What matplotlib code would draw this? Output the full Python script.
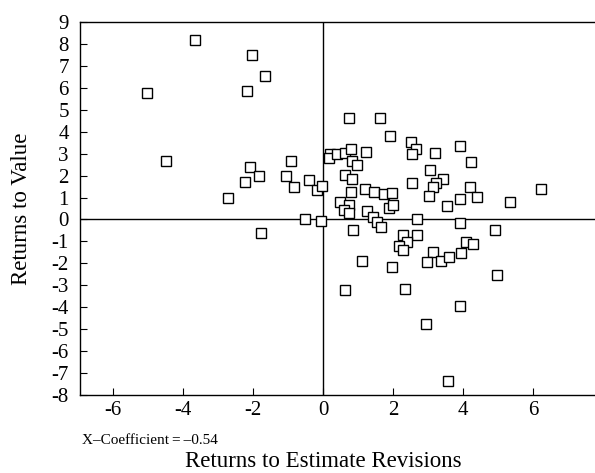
import matplotlib
matplotlib.use("Agg")
import matplotlib.pyplot as plt


# ── Data ──────────────────────────────────────────────────────────────────────

estimate_revisions = [
    -3.66, -2.03, -1.66, -2.16, -5.02, -4.47, -0.92, -2.09, -1.83, -1.07,
    -2.22, -0.41, -0.84, -0.18, -0.02, -2.71, -0.51, -0.05, -1.78,
    0.75, 1.63, 1.91, 2.51, 2.65, 2.54, 3.19, 3.92, 4.23, 3.07,
    3.43, 3.23, 3.15, 4.20, 4.40, 3.91, 3.55, 3.04, 2.54, 5.33,
    6.23, 0.20, 0.17, 0.41, 0.63, 0.79, 0.83, 0.97, 1.23, 0.64,
    0.83, 1.19, 0.79, 1.47, 1.73, 1.97, 0.49, 0.75, 0.61, 0.75,
    1.25, 1.89, 2.01, 1.42, 1.53, 1.67, 2.68, 3.91, 0.87, 4.91,
    2.28, 2.69, 2.39, 2.18, 2.29, 4.08, 4.28, 3.13, 2.96, 3.37,
    3.61, 3.95, 1.11, 1.96, 4.96, 0.63, 2.33, 3.91, 2.95, 3.58,
]
returns_to_value = [
    8.18, 7.50, 6.54, 5.86, 5.78, 2.68, 2.68, 2.41, 2.00, 2.00,
    1.69, 1.79, 1.48, 1.34, 1.54, 0.99, 0.00, -0.05, -0.62,
    4.61, 4.64, 3.81, 3.53, 3.21, 2.99, 3.05, 3.37, 2.61, 2.26,
    1.85, 1.65, 1.50, 1.47, 1.03, 0.93, 0.63, 1.06, 1.68, 0.78,
    1.41, 2.99, 2.79, 2.99, 3.05, 3.21, 2.68, 2.50, 3.08, 2.03,
    1.83, 1.41, 1.24, 1.24, 1.16, 1.19, 0.78, 0.66, 0.43, 0.30,
    0.39, 0.51, 0.66, 0.13, -0.10, -0.33, 0.01, -0.17, -0.48, -0.48,
    -0.71, -0.71, -1.04, -1.19, -1.39, -1.04, -1.13, -1.50, -1.92, -1.88,
    -1.69, -1.54, -1.89, -2.18, -2.53, -3.21, -3.18, -3.94, -4.78, -7.35,
]

x_ticks = [-6, -4, -2, 0, 2, 4, 6]
y_ticks = list(range(-8, 10))
coef_text = "X\u2013Coefficient\u2009=\u2009\u20130.54"

# ── Plot ──────────────────────────────────────────────────────────────────────

plt.rcParams["font.family"] = ["Liberation Serif", "DejaVu Serif"]

fig = plt.figure(figsize=(5.95, 4.73), dpi=100)
ax = fig.add_axes([80 / 595, 78 / 473, 1 - 80 / 595, 373 / 473])

ax.axhline(0, color="black", lw=1.0, zorder=1)
ax.axvline(0, color="black", lw=1.0, zorder=1)

ax.plot(estimate_revisions, returns_to_value, linestyle="none", marker="s",
        markersize=6.5, markerfacecolor="white", markeredgecolor="black",
        markeredgewidth=1.0, zorder=3)

ax.set_xlim(-6.94, 7.77)
ax.set_ylim(-8, 9)
ax.set_xticks(x_ticks)
ax.set_yticks(y_ticks)
ax.set_xticklabels([str(t) for t in x_ticks])
ax.set_yticklabels([str(t) for t in y_ticks])
ax.tick_params(direction="in", length=5, width=0.8, labelsize=15,
               colors="black")
ax.tick_params(axis="y", pad=8)
ax.tick_params(axis="x", pad=4)

for side in ["left", "top", "bottom"]:
    ax.spines[side].set_linewidth(1.0)
ax.spines["right"].set_visible(False)

fig.text(22 / 595, 1 - 209 / 473, "Returns to Value", rotation=90,
         ha="center", va="center", fontsize=16.5)
fig.text(323 / 595, 1 - 461 / 473, "Returns to Estimate Revisions",
         ha="center", va="center", fontsize=16.5)
fig.text(82 / 595, 1 - 440 / 473, coef_text, ha="left", va="center",
         fontsize=11)

fig.savefig("out.png", dpi=100)
